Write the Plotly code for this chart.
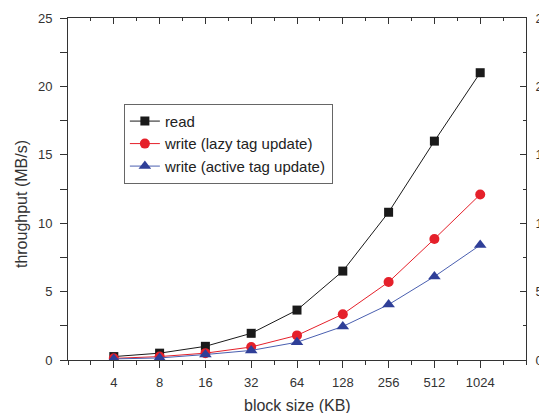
import plotly.graph_objects as go

block_sizes = ["4", "8", "16", "32", "64", "128", "256", "512", "1024"]
read = [0.25, 0.5, 1.0, 1.95, 3.65, 6.5, 10.8, 16.0, 21.0]
write_lazy = [0.12, 0.25, 0.5, 0.95, 1.8, 3.35, 5.7, 8.85, 12.1]
write_active = [0.08, 0.15, 0.4, 0.7, 1.3, 2.45, 4.05, 6.1, 8.4]

xpos = list(range(len(block_sizes)))
FONT = "Liberation Sans, Arial, sans-serif"

fig = go.Figure()
fig.add_trace(go.Scatter(x=xpos, y=read, name="read", mode="lines+markers",
                         line=dict(color="#1a1a1a", width=1),
                         marker=dict(symbol="square", size=9, color="#1a1a1a")))
fig.add_trace(go.Scatter(x=xpos, y=write_lazy, name="write (lazy tag update)", mode="lines+markers",
                         line=dict(color="#e5202a", width=1),
                         marker=dict(symbol="circle", size=10, color="#e5202a")))
fig.add_trace(go.Scatter(x=xpos, y=write_active, name="write (active tag update)", mode="lines+markers",
                         line=dict(color="#4a5fb0", width=1),
                         marker=dict(symbol="triangle-up", size=11, color="#2f3f98")))
# invisible trace to activate secondary axes
fig.add_trace(go.Scatter(x=[xpos[0]], y=[read[0]], xaxis="x2", yaxis="y2", showlegend=False,
                         mode="markers", marker=dict(opacity=0), hoverinfo="skip"))

half = [-1 + 0.5 * i for i in range(21) if (-1 + 0.5 * i) not in xpos]
axis_common = dict(showgrid=False, zeroline=False, showline=True, linecolor="#333", linewidth=1,
                   tickcolor="#333", automargin=False)

# page body has an 8px default margin, so the figure is sized to fill the rest of the window
fig.update_layout(
    width=539, height=405,
    margin=dict(l=60, r=21, t=10, b=53),
    paper_bgcolor="white", plot_bgcolor="white",
    font=dict(family=FONT, color="#333", size=13),
    xaxis=dict(range=[-1, 9], tickmode="array", tickvals=xpos, ticktext=block_sizes,
               ticks="outside", ticklen=7, tickfont=dict(size=13), ticklabelstandoff=3,
               minor=dict(tickmode="array", tickvals=half, ticks="outside", ticklen=4, tickcolor="#333"),
               **axis_common),
    yaxis=dict(range=[0, 25], tickmode="linear", tick0=0, dtick=5,
               ticks="outside", ticklen=7, tickfont=dict(size=13), ticklabelstandoff=5,
               minor=dict(tickmode="linear", tick0=0, dtick=2.5, ticks="outside", ticklen=7, tickcolor="#333"),
               **axis_common),
    xaxis2=dict(range=[-1, 9], overlaying="x", side="top", tickmode="array", tickvals=xpos,
                showticklabels=False, ticks="inside", ticklen=6,
                minor=dict(tickmode="array", tickvals=half, ticks="inside", ticklen=3, tickcolor="#333"),
                **axis_common),
    yaxis2=dict(range=[0, 25], overlaying="y", side="right", tickmode="linear", tick0=0, dtick=5,
                ticks="inside", ticklen=6, tickfont=dict(size=13), ticklabelstandoff=6,
                minor=dict(tickmode="linear", tick0=0, dtick=2.5, ticks="inside", ticklen=3, tickcolor="#333"),
                **axis_common),
    legend=dict(x=0.122, y=0.749, xanchor="left", yanchor="top",
                bgcolor="white", bordercolor="#666", borderwidth=1,
                font=dict(size=15, color="#222"), tracegroupgap=0, itemwidth=30),
    showlegend=True,
    annotations=[
        dict(text="block size (KB)", xref="paper", yref="paper", x=0.5, y=-0.133,
             xanchor="center", yanchor="middle", showarrow=False, font=dict(size=16, color="#333")),
        dict(text="throughput (MB/s)", xref="paper", yref="paper", x=-0.1026, y=0.456,
             xanchor="center", yanchor="middle", textangle=-90, showarrow=False,
             font=dict(size=16, color="#333")),
    ],
)

fig.write_html("out.html")
